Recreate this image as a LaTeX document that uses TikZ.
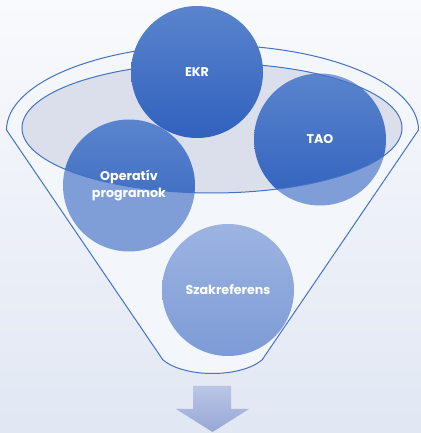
\documentclass[tikz,border=0pt]{standalone}
\usepackage{fontspec}
\setmainfont{Poppins}
\definecolor{rim}{HTML}{4472C4}
\definecolor{bgtop}{HTML}{F9FAFD}
\definecolor{bgbot}{HTML}{E1E7F3}
\definecolor{funnelin}{HTML}{F3F6FB}
\definecolor{surface}{HTML}{DADFEB}
\definecolor{deeptop}{HTML}{5A84CD}
\definecolor{deepbot}{HTML}{3161BE}
\definecolor{pale}{HTML}{7F9ED8}
\definecolor{szaktop}{HTML}{9DB4E2}
\definecolor{szakbot}{HTML}{7D9BD6}
\definecolor{arrtop}{HTML}{BAC6E6}
\definecolor{arrbot}{HTML}{97A7D6}
\begin{document}
\begin{tikzpicture}[x=0.75pt,y=0.75pt,
  ball/.style={circle,minimum size=99pt,inner sep=0pt},
  deep/.style={top color=deeptop,bottom color=deepbot},
  rimline/.style={draw=rim,line width=0.75pt},
  lbl/.style={text=white,font=\fontsize{9.5}{12.5}\selectfont\bfseries,align=center}]
\def\r{66}
\useasboundingbox (0,0) rectangle (421,433);
\shade[top color=bgtop,bottom color=bgbot] (0,0) rectangle (421,433);
% funnel body
\coordinate (fl) at (6.5,303);
\coordinate (bl) at (163,73);
\coordinate (br) at (262,73);
\filldraw[rimline,fill=funnelin] (fl) arc[start angle=180,end angle=0,x radius=206,y radius=85]
  -- (br) .. controls (240,55) and (185,55) .. (bl) -- cycle;
% balls below the rim
\node[ball,fill=pale] (op) at (129,247.5) {};
\node[ball,fill=pale] (tao) at (320,293.5) {};
\node[ball,top color=szaktop,bottom color=szakbot] (szak) at (228,143) {};
% top surface
\fill[surface] (212,305) ellipse[x radius=190,y radius=65];
\begin{scope}
\clip (212,305) ellipse[x radius=190,y radius=65];
\shade[deep] (op.center) circle (\r);
\shade[deep] (tao.center) circle (\r);
\end{scope}
\draw[rimline] (212,305) ellipse[x radius=190,y radius=65];
\node[ball,deep] (ekr) at (197,361) {};
% labels
\node[lbl] at (ekr) {EKR};
\node[lbl] at (tao) {TAO};
\node[lbl] at (op) {Operatív\\programok};
\node[lbl] at (szak) {Szakreferens};
% arrow
\shade[top color=arrtop,bottom color=arrbot] (193,47) -- (231,47) -- (231,24) -- (249,24)
  -- (212.5,1) -- (176,24) -- (193,24) -- cycle;
\end{tikzpicture}
\end{document}
